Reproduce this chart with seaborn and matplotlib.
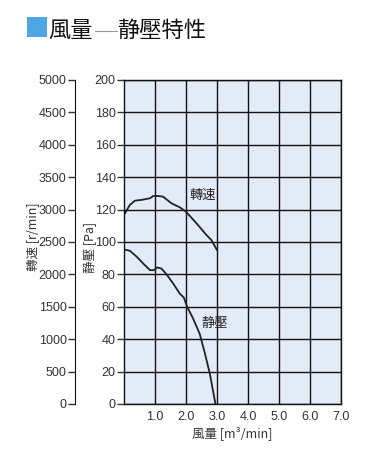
import numpy as np
import pandas as pd
import seaborn as sns
import matplotlib.pyplot as plt

# curves (flow in m3/min, values on the Pa scale)
speed_flow = [0.0, 0.19, 0.35, 0.57, 0.73, 0.84, 0.94, 1.1, 1.26, 1.53, 1.8, 2.0, 2.34, 2.66, 2.82, 3.0]
speed_val = [116.7, 122.9, 125.5, 126.0, 126.6, 127.0, 128.4, 128.4, 128.0, 123.9, 121.4, 118.7, 111.5, 104.3, 101.2, 95.0]

press_flow = [0.0, 0.19, 0.41, 0.62, 0.84, 0.96, 1.07, 1.21, 1.37, 1.59, 1.8, 1.93, 2.04, 2.23, 2.44, 2.6, 2.77, 2.95]
press_val = [95.4, 94.6, 90.9, 86.7, 82.6, 82.6, 84.3, 83.6, 80.1, 74.3, 68.1, 65.7, 59.9, 52.7, 43.4, 32.0, 18.6, 0.0]

x_ticks = [1, 2, 3, 4, 5, 6, 7]
x_labels = ['1.0', '2.0', '3.0', '4.0', '5.0', '6.0', '7.0']
pa_ticks = list(range(0, 201, 20))
rpm_ticks = list(range(0, 5001, 500))

sns.set_style('white')
plt.rcParams['font.family'] = ['Liberation Sans', 'Noto Sans CJK JP', 'DejaVu Sans']
cjk = ['Noto Sans CJK JP', 'DejaVu Sans']

fig = plt.figure(figsize=(3.79, 4.62), dpi=100)
W, H = 379, 462

# main plot (Pa)
ax = fig.add_axes([124 / W, (H - 404) / H, 217 / W, 324 / H])
ax.set_facecolor('#e2ebf8')

df_speed = pd.DataFrame({'flow': speed_flow, 'val': speed_val})
df_press = pd.DataFrame({'flow': press_flow, 'val': press_val})
sns.lineplot(x='flow', y='val', data=df_speed, ax=ax, color='#222222', linewidth=1.3, sort=False)
sns.lineplot(x='flow', y='val', data=df_press, ax=ax, color='#222222', linewidth=1.3, sort=False)

ax.set_xlim(0, 7)
ax.set_ylim(0, 200)
ax.set_xticks(x_ticks)
ax.set_xticklabels(x_labels)
ax.set_yticks(pa_ticks)
ax.grid(True, color='#1a1010', linewidth=1.0)
ax.set_axisbelow(True)
for s in ax.spines.values():
    s.set_color('#111111')
    s.set_linewidth(1.0)
ax.tick_params(axis='y', left=True, direction='out', length=5, width=1, labelsize=9, pad=1, colors='#333333')
ax.tick_params(axis='x', bottom=False, length=0, labelsize=9, pad=5, colors='#333333')
ax.set_xlabel('')
ax.set_ylabel('')

ax.text(2.55, 129, '轉速', family=cjk, fontsize=9.5, color='#222222', ha='center', va='center')
ax.text(2.94, 49.5, '静壓', family=cjk, fontsize=9.5, color='#222222', ha='center', va='center')

# rpm axis on the far left
ax2 = fig.add_axes([75 / W, (H - 404) / H, 0.001, 324 / H])
ax2.set_facecolor('none')
ax2.set_ylim(0, 5000)
ax2.set_yticks(rpm_ticks)
ax2.set_xticks([])
for k in ['top', 'right', 'bottom']:
    ax2.spines[k].set_visible(False)
ax2.spines['left'].set_color('#111111')
ax2.tick_params(axis='y', left=True, direction='out', length=5, width=1, labelsize=9, pad=1, colors='#333333')

# axis labels
fig.text(33 / W, 1 - 237 / H, '轉速 [r/min]', family=cjk, fontsize=9, rotation=90,
         ha='center', va='center', color='#333333')
fig.text(90 / W, 1 - 247 / H, '静壓 [Pa]', family=cjk, fontsize=9, rotation=90,
         ha='center', va='center', color='#333333')
fig.text(232 / W, 1 - 433 / H, '風量 [m³/min]', family=cjk, fontsize=9,
         ha='center', va='center', color='#333333')

# title
fig.patches.append(plt.Rectangle((27 / W, 1 - 37 / H), 20 / W, 20 / H, transform=fig.transFigure,
                                 facecolor='#4ea6e4', edgecolor='none'))
fig.text(48 / W, 1 - 30 / H, '風量', family=cjk, fontsize=16, ha='left', va='center', color='#111111')
fig.add_artist(plt.Line2D([95 / W, 117 / W], [1 - 31 / H, 1 - 31 / H], transform=fig.transFigure,
                          color='#999999', linewidth=0.8))
fig.text(117 / W, 1 - 30 / H, '静壓特性', family=cjk, fontsize=16, ha='left', va='center', color='#111111')

fig.savefig('out.png', dpi=100)
